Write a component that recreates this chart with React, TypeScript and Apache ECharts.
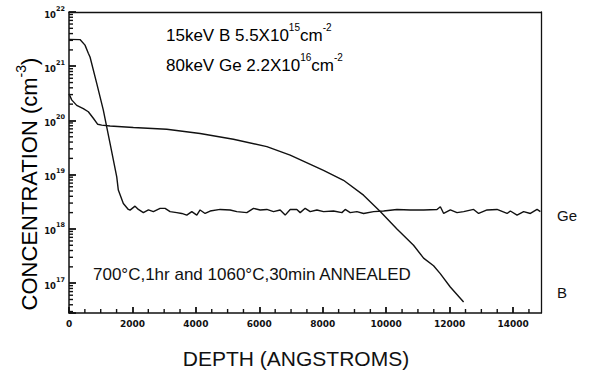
import React, { useEffect, useRef } from 'react';
import * as echarts from 'echarts';

// Axis extents and labelled ticks
const DEPTH_MAX = 14880;
const DEPTH_INTERVAL = 2000;
const CONC_MIN = 2.82e16;
const CONC_MAX = 1e22;
const DEPTH_MINOR_TICKS = [500, 1000, 1500, 2500, 3000, 3500, 4500, 5000, 5500, 6500, 7000, 7500, 8500, 9000, 9500, 10500, 11000, 11500, 12500, 13000, 13500, 14500];
const CONC_MINOR_MULT = [2, 3, 4, 5, 6, 7, 8, 9];
const CONC_DECADES = [16, 17, 18, 19, 20, 21];

// Ge profile (depth in Å, concentration in cm^-3)
const GE_DEPTH = [0, 347, 505, 609, 663, 874, 1082, 1294, 1505, 1555, 1713, 1871, 1925, 2082, 2187, 2345, 2503, 2660, 2871, 3029, 3187, 3397, 3555, 3713, 3871, 4029, 4133, 4291, 4449, 4764, 5080, 5291, 5606, 5816, 6026, 6237, 6447, 6657, 6815, 6973, 7183, 7288, 7446, 7604, 7815, 8025, 8340, 8603, 8708, 8866, 9076, 9287, 9602, 9918, 10339, 10760, 11181, 11601, 11707, 11812, 12022, 12232, 12442, 12756, 12914, 13179, 13494, 13810, 13914, 14125, 14333, 14545, 14756, 14860];
const GE_CONC = [3.13e21, 3.1e21, 2.45e21, 1.74e21, 1.48e21, 4.84e20, 1.55e20, 3.8e19, 9.1e18, 5.2e18, 2.95e18, 2.29e18, 2.22e18, 2.63e18, 2.29e18, 2.0e18, 2.24e18, 2.09e18, 2.4e18, 2.4e18, 2.09e18, 2.0e18, 1.93e18, 1.8e18, 2.09e18, 1.8e18, 2.24e18, 1.93e18, 2.14e18, 2.29e18, 2.24e18, 2.09e18, 2.0e18, 2.4e18, 2.24e18, 2.29e18, 2.09e18, 2.24e18, 1.8e18, 2.29e18, 2.29e18, 2.0e18, 2.4e18, 2.09e18, 2.24e18, 2.09e18, 2.14e18, 2.0e18, 2.29e18, 2.0e18, 2.09e18, 1.93e18, 2.09e18, 2.14e18, 2.29e18, 2.24e18, 2.24e18, 2.29e18, 2.57e18, 1.93e18, 2.24e18, 2.0e18, 2.09e18, 2.29e18, 1.93e18, 2.24e18, 2.29e18, 1.93e18, 2.14e18, 1.8e18, 2.09e18, 1.93e18, 2.29e18, 2.09e18];

// B profile
const B_DEPTH = [0, 85, 243, 451, 609, 767, 906, 1032, 1294, 2029, 3082, 4133, 5183, 6237, 6972, 8023, 8654, 9285, 9812, 10339, 10862, 11178, 11493, 11704, 12020, 12440];
const B_CONC = [3.09e20, 2.4e20, 1.9e20, 1.66e20, 1.45e20, 1.1e20, 8.5e19, 8.2e19, 7.9e19, 7.4e19, 6.9e19, 5.75e19, 4.5e19, 3.3e19, 2.3e19, 1.2e19, 7.9e18, 4.2e18, 2.1e18, 1.0e18, 5.0e17, 2.9e17, 2.1e17, 1.5e17, 8.5e16, 4.5e16];

const INK = '#111111';
const FONT = '"Liberation Sans", Arial, sans-serif';
const TICK_FONT = '"DejaVu Sans", sans-serif';

export default function App() {
  const ref = useRef<HTMLDivElement>(null);
  useEffect(() => {
    if (!ref.current) return;
    const chart = echarts.init(ref.current, undefined, { renderer: 'svg' });
    const yMinor: number[][] = [];
    CONC_DECADES.forEach((d) => {
      CONC_MINOR_MULT.forEach((m) => {
        const v = m * Math.pow(10, d);
        if (v > CONC_MIN && v < CONC_MAX) yMinor.push([0, v]);
      });
    });
    const xMinor = DEPTH_MINOR_TICKS.map((d) => [d, CONC_MIN]);
    const supRich = {
      n: { fontSize: 17, fontFamily: FONT, color: INK, lineHeight: 22, verticalAlign: 'bottom' },
      s: { fontSize: 10, fontFamily: FONT, color: INK, lineHeight: 15, verticalAlign: 'top' },
    };
    const frameAxis = {
      axisLine: { show: true, onZero: false, lineStyle: { color: INK, width: 1.3 } },
      axisTick: { show: false }, axisLabel: { show: false }, splitLine: { show: false },
    };
    chart.setOption({
      animation: false,
      backgroundColor: '#ffffff',
      grid: { left: 69, right: 51, top: 12, bottom: 58, containLabel: false, outerBoundsMode: 'none' },
      xAxis: [
        {
          type: 'value', min: 0, max: DEPTH_MAX, interval: DEPTH_INTERVAL,
          axisLine: { show: true, onZero: false, lineStyle: { color: INK, width: 1.5 } },
          axisTick: { show: true, inside: true, length: 6, lineStyle: { color: INK, width: 1.8 } },
          splitLine: { show: false },
          axisLabel: {
            showMaxLabel: false, margin: 6, color: INK, fontSize: 9, fontWeight: 'bold', fontFamily: TICK_FONT,
            formatter: (v: number) => (v % DEPTH_INTERVAL === 0 ? String(v) : ''),
          },
        },
        { type: 'value', position: 'top', min: 0, max: DEPTH_MAX, ...frameAxis },
      ],
      yAxis: [
        {
          type: 'log', logBase: 10, min: CONC_MIN, max: CONC_MAX,
          axisLine: { show: true, onZero: false, lineStyle: { color: INK, width: 1.5 } },
          axisTick: { show: true, inside: true, length: 7, lineStyle: { color: INK, width: 1.8 } },
          splitLine: { show: false },
          axisLabel: {
            margin: 4, color: INK,
            formatter: (v: number) => {
              const l = Math.log10(v);
              const e = Math.round(l);
              if (Math.abs(l - e) > 0.01) return '';
              return `{b|10}{s|${e}}`;
            },
            rich: {
              b: { fontSize: 8.5, fontWeight: 'bold', fontFamily: TICK_FONT, color: INK, lineHeight: 14, verticalAlign: 'bottom' },
              s: { fontSize: 6.5, fontWeight: 'bold', fontFamily: TICK_FONT, color: INK, lineHeight: 8, verticalAlign: 'top' },
            },
          },
        },
        { type: 'log', position: 'right', min: CONC_MIN, max: CONC_MAX, ...frameAxis },
      ],
      series: [
        {
          name: 'Ge', type: 'line', data: GE_DEPTH.map((d, i) => [d, GE_CONC[i]]),
          showSymbol: false, symbol: 'none', lineStyle: { color: INK, width: 1.4 },
        },
        {
          name: 'B', type: 'line', data: B_DEPTH.map((d, i) => [d, B_CONC[i]]),
          showSymbol: false, symbol: 'none', lineStyle: { color: INK, width: 1.4 },
        },
        {
          type: 'custom', data: yMinor, silent: true,
          renderItem: (_p: any, api: any) => {
            const p = api.coord([api.value(0), api.value(1)]);
            return { type: 'line', shape: { x1: p[0], y1: p[1], x2: p[0] + 4, y2: p[1] }, style: { stroke: INK, lineWidth: 1.4 } };
          },
        },
        {
          type: 'custom', data: xMinor, silent: true,
          renderItem: (_p: any, api: any) => {
            const p = api.coord([api.value(0), api.value(1)]);
            return { type: 'line', shape: { x1: p[0], y1: p[1], x2: p[0], y2: p[1] - 4 }, style: { stroke: INK, lineWidth: 1.4 } };
          },
        },
      ],
      graphic: [
        {
          type: 'text', left: 166, top: 22,
          style: { text: '{n|15keV B 5.5X10}{s|15}{n|cm}{s|-2}', rich: supRich },
        },
        {
          type: 'text', left: 166, top: 52,
          style: { text: '{n|80keV Ge 2.2X10}{s|16}{n|cm}{s|-2}', rich: supRich },
        },
        {
          type: 'text', left: 93, top: 266,
          style: { text: '700°C,1hr and 1060°C,30min ANNEALED', fontSize: 17, fontFamily: FONT, fill: INK },
        },
        {
          type: 'text', x: 557, y: 215,
          style: { text: 'Ge', fontSize: 15, fontFamily: FONT, fill: INK, verticalAlign: 'middle' },
        },
        {
          type: 'text', x: 557, y: 292,
          style: { text: 'B', fontSize: 15, fontFamily: FONT, fill: INK, verticalAlign: 'middle' },
        },
        {
          type: 'text', x: 296, y: 358,
          style: { text: 'DEPTH (ANGSTROMS)', fontSize: 21, fontFamily: FONT, fill: INK, align: 'center', verticalAlign: 'middle' },
        },
        {
          type: 'text', x: 27, y: 184, rotation: Math.PI / 2,
          style: {
            text: '{n|CONCENTRATION (cm}{s|-3}{n|)}', align: 'center', verticalAlign: 'middle',
            rich: {
              n: { fontSize: 22, fontFamily: FONT, color: INK, lineHeight: 26, verticalAlign: 'bottom' },
              s: { fontSize: 14, fontFamily: FONT, color: INK, lineHeight: 16, verticalAlign: 'top' },
            },
          },
        },
      ],
    });
    return () => chart.dispose();
  }, []);
  return <div ref={ref} style={{ position: 'absolute', left: 0, top: 0, width: 592, height: 371, background: '#fff' }} />;
}
